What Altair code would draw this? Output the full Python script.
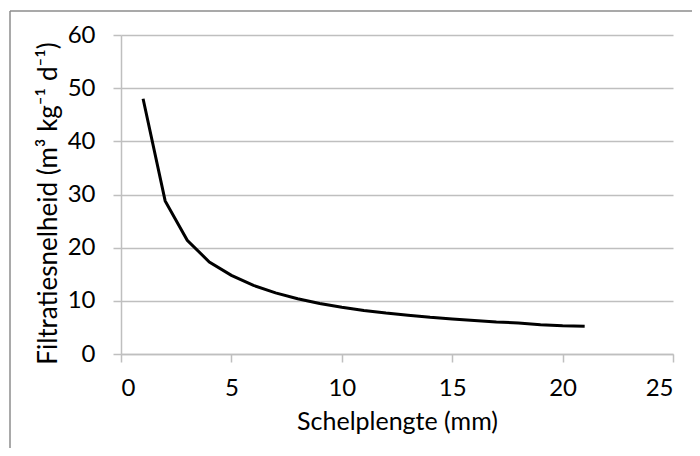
import altair as alt
import pandas as pd

lengte = [1, 2, 3, 4, 5, 6, 7, 8, 9, 10, 11, 12, 13, 14, 15, 16, 17, 18, 19, 20, 21]
filtratie = [48, 28.8, 21.4, 17.3, 14.8, 12.9, 11.5, 10.4, 9.5, 8.8, 8.2,
             7.7, 7.3, 6.9, 6.6, 6.3, 6.0, 5.85, 5.5, 5.3, 5.2]

df = pd.DataFrame({"x": lengte, "y": filtratie})

FONT = "Lato"

line = alt.Chart(df).mark_line(color="black", strokeWidth=3).encode(
    x=alt.X("x:Q", title="Schelplengte (mm)",
            scale=alt.Scale(domain=[0, 25], nice=False),
            axis=alt.Axis(values=[0, 5, 10, 15, 20, 25], grid=False)),
    y=alt.Y("y:Q", title="Filtratiesnelheid (m³ kg⁻¹ d⁻¹)",
            scale=alt.Scale(domain=[0, 60], nice=False),
            axis=alt.Axis(values=[0, 10, 20, 30, 40, 50, 60], grid=True,
                          titleFontSize=26, titleY=168)),
)

frame_src = alt.Chart(pd.DataFrame({"a": [0]}))
frame_top = frame_src.mark_rule(color="#8c8c8c", strokeWidth=1.5, clip=False).encode(
    x=alt.value(-111), x2=alt.value(600), y=alt.value(-24),
)
frame_left = frame_src.mark_rule(color="#8c8c8c", strokeWidth=1.5, clip=False).encode(
    x=alt.value(-111), y=alt.value(-24), y2=alt.value(440),
)

chart = alt.layer(frame_top, frame_left, line).properties(
    width=552, height=319,
    autosize=alt.AutoSizeParams(type="none"),
    padding={"left": 113, "top": 27, "right": 19, "bottom": 94},
).configure_view(stroke=None).configure_axis(
    labelFont=FONT, titleFont=FONT, labelFontSize=24, titleFontSize=25,
    labelColor="black", titleColor="black", titleFontWeight="normal",
    domainColor="#bfbfbf", tickColor="#bfbfbf", gridColor="#bfbfbf",
    domainWidth=1.5, tickWidth=1.5, gridWidth=1.5, tickSize=8,
).configure_axisY(
    labelPadding=18, titlePadding=6,
).configure_axisX(
    labelPadding=14, titlePadding=9,
)

chart.save("out.html", embed_options={"renderer": "svg", "actions": False})
